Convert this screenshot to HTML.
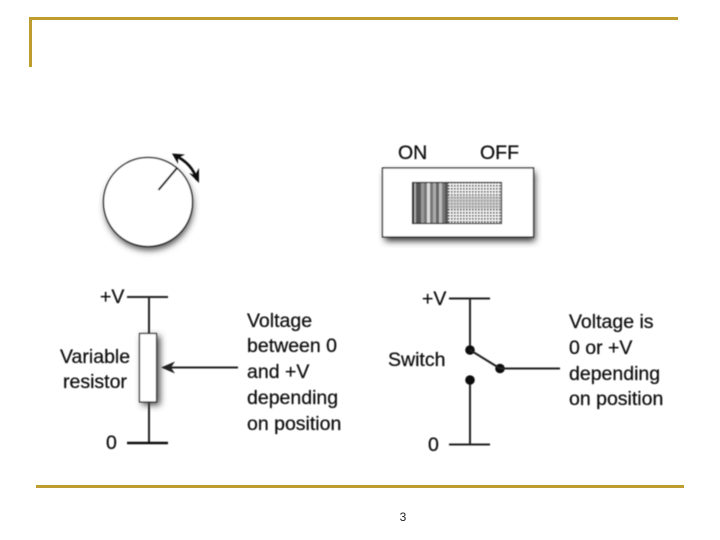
<!DOCTYPE html>
<html><head><meta charset="utf-8"><style>
html,body{margin:0;padding:0;background:#fff}
svg{display:block}
text{font-family:"Liberation Sans",sans-serif;font-size:19.5px;fill:#111;stroke:#111;stroke-width:.25px}
</style></head><body>
<svg width="720" height="540" viewBox="0 0 720 540" xmlns="http://www.w3.org/2000/svg">
<defs>
<filter id="sh" x="-40%" y="-40%" width="180%" height="180%"><feGaussianBlur stdDeviation="3.500"/></filter>
<filter id="soft" x="-5%" y="-5%" width="110%" height="110%"><feGaussianBlur stdDeviation="0.45"/></filter>
<pattern id="stripes" width="36" height="41" patternUnits="userSpaceOnUse" x="412" y="182">
<rect width="36" height="41" fill="#999"/>
<rect x="0" width="2" height="41" fill="#111"/><rect x="2" width="2" height="41" fill="#aaa"/>
<rect x="4" width="5" height="41" fill="#555"/><rect x="9" width="3" height="41" fill="#999"/>
<rect x="12" width="3" height="41" fill="#777"/><rect x="15" width="3" height="41" fill="#ddd"/>
<rect x="18" width="3" height="41" fill="#777"/><rect x="21" width="3" height="41" fill="#aaa"/>
<rect x="24" width="3" height="41" fill="#666"/><rect x="27" width="3" height="41" fill="#bbb"/>
<rect x="30" width="3" height="41" fill="#777"/><rect x="33" width="3" height="41" fill="#555"/>
</pattern>
<pattern id="dots" width="3" height="3" patternUnits="userSpaceOnUse" x="448" y="182">
<rect width="3" height="3" fill="#f4f4f4"/><rect width="1.600" height="1.600" fill="#222"/>
</pattern>
</defs>

<!-- Slide frame -->
<rect x="29" y="17" width="649" height="3" fill="#bd9d2f"/>
<rect x="29" y="17" width="3" height="50" fill="#bd9d2f"/>
<rect x="36" y="485" width="648" height="3" fill="#bd9d2f"/>
<text x="403" y="521" text-anchor="middle" style="font-size:12px;fill:#222;stroke:none">3</text>

<g filter="url(#soft)">
<!-- Dial -->
<circle cx="149" cy="206" r="44" fill="#444" filter="url(#sh)"/>
<circle cx="148" cy="202" r="44.500" fill="#fff" stroke="#111" stroke-width="1.300"/>
<line x1="158.500" y1="190" x2="177" y2="168" stroke="#111" stroke-width="2"/>
<path d="M174 155 Q192 163 197 180" fill="none" stroke="#111" stroke-width="2.600"/>
<path d="M172 153.500 L185 154.500 L178 158 L178 164 Z" fill="#111"/>
<path d="M199 183 L189 173 L195 175 L199 168 Z" fill="#111"/>

<!-- Switch -->
<rect x="385" y="172" width="150" height="69" fill="#333" filter="url(#sh)"/>
<rect x="382.500" y="168" width="151" height="69" fill="#fff" stroke="#111" stroke-width="1.200"/>
<rect x="412" y="182" width="36" height="41" fill="url(#stripes)"/>
<rect x="448" y="182" width="54" height="41" fill="url(#dots)"/>
<rect x="448" y="196" width="54" height="13" fill="#bbb" opacity="0.65"/>
<rect x="412.500" y="182.500" width="89" height="41" fill="none" stroke="#111" stroke-width="1.200"/>
<text x="398" y="159">ON</text>
<text x="480" y="159">OFF</text>

<!-- Left circuit -->
<line x1="127" y1="297" x2="168" y2="297" stroke="#222" stroke-width="2"/>
<line x1="149" y1="297" x2="149" y2="443" stroke="#222" stroke-width="2"/>
<line x1="127" y1="443" x2="168" y2="443" stroke="#111" stroke-width="2.500"/>
<rect x="142" y="336" width="18" height="69" fill="#444" filter="url(#sh)"/>
<rect x="139.500" y="333.500" width="17" height="68.500" fill="#fff" stroke="#222" stroke-width="1.200"/>
<line x1="164" y1="367.500" x2="238" y2="367.500" stroke="#222" stroke-width="2"/>
<path d="M161 367.500 L175 361.500 L171 367.500 L175 373.500 Z" fill="#222"/>
<text x="100" y="303">+V</text>
<text x="106" y="449">0</text>
<text x="60" y="363">Variable</text>
<text x="63" y="388">resistor</text>
<text x="247" y="327">Voltage</text>
<text x="247" y="352">between 0</text>
<text x="247" y="378">and +V</text>
<text x="247" y="404">depending</text>
<text x="247" y="430">on position</text>

<!-- Right circuit -->
<line x1="449" y1="298.500" x2="490" y2="298.500" stroke="#222" stroke-width="2"/>
<line x1="470" y1="298" x2="470" y2="350" stroke="#222" stroke-width="2"/>
<line x1="470" y1="380" x2="470" y2="444" stroke="#222" stroke-width="2"/>
<line x1="449" y1="444.500" x2="490" y2="444.500" stroke="#222" stroke-width="2"/>
<circle cx="470" cy="350" r="4.800" fill="#111"/>
<circle cx="470" cy="380" r="4.800" fill="#111"/>
<circle cx="500" cy="368.500" r="4.800" fill="#111"/>
<line x1="470" y1="350" x2="500" y2="368.500" stroke="#222" stroke-width="2"/>
<line x1="500" y1="368.500" x2="560" y2="368.500" stroke="#222" stroke-width="2"/>
<text x="422" y="305">+V</text>
<text x="428" y="451">0</text>
<text x="388" y="366">Switch</text>
<text x="569" y="328">Voltage is</text>
<text x="569" y="354">0 or +V</text>
<text x="569" y="380">depending</text>
<text x="569" y="405">on position</text>
</g>
</svg>
</body></html>
